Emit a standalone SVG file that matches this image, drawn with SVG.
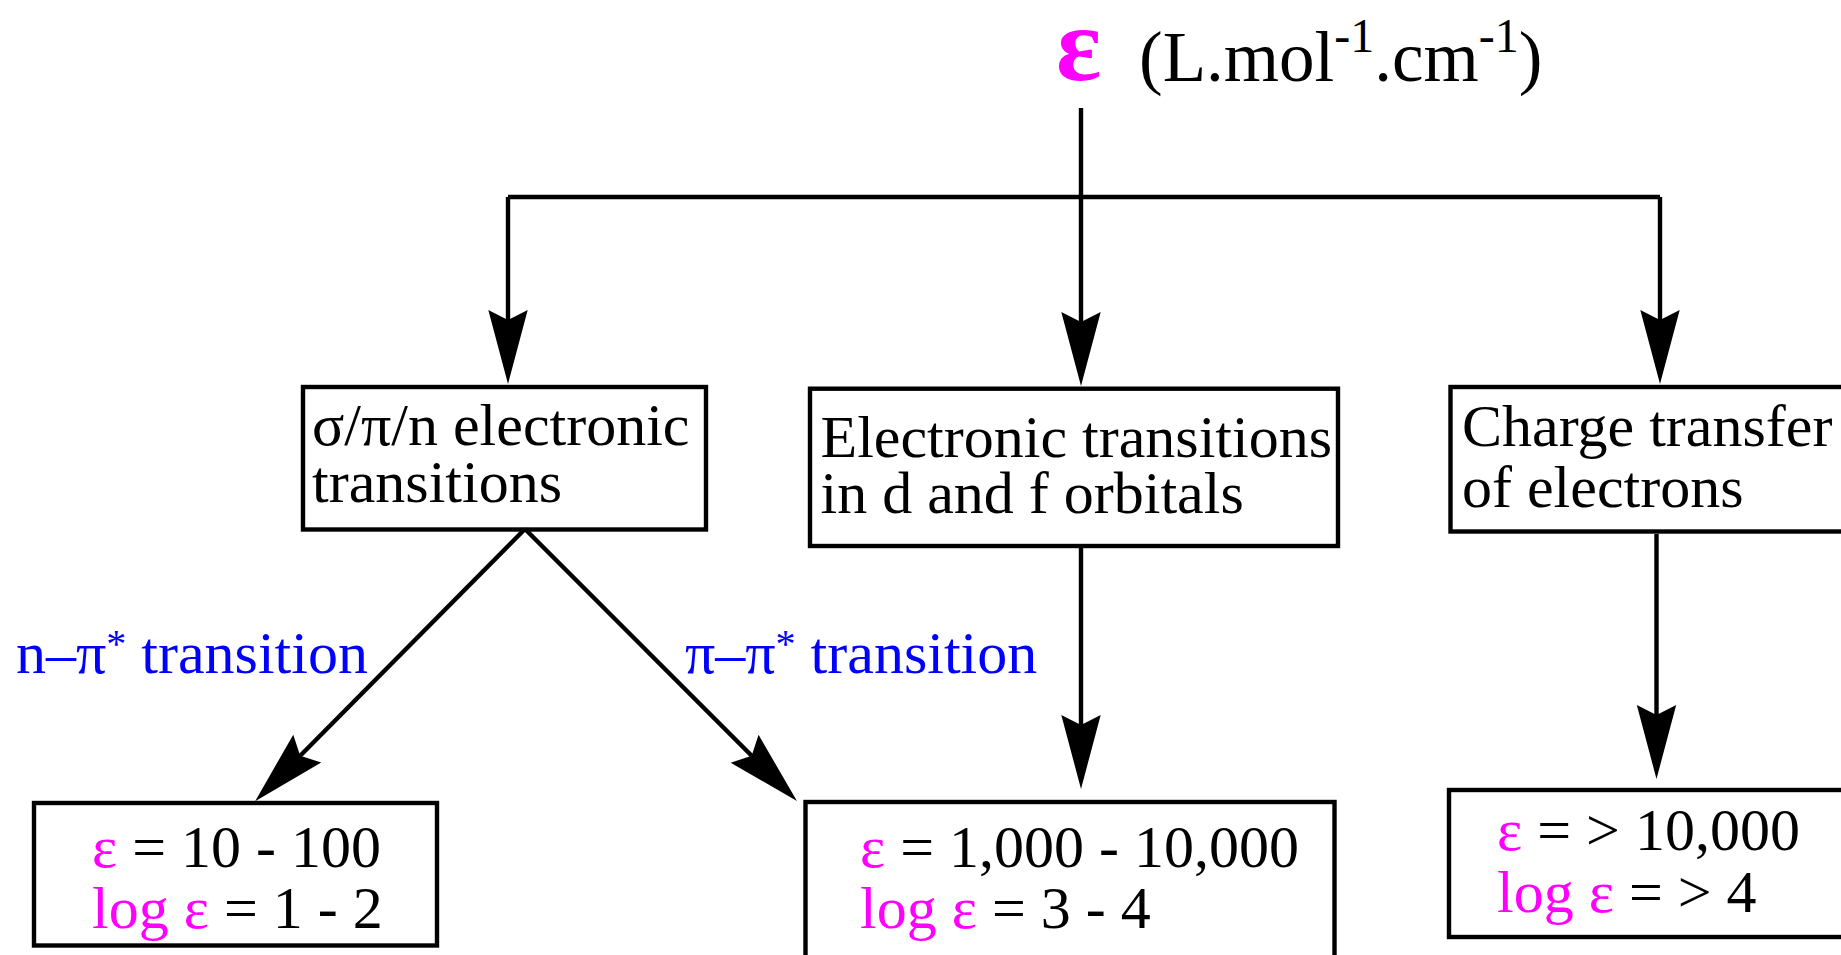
<svg xmlns="http://www.w3.org/2000/svg" width="1841" height="955" viewBox="0 0 1841 955">
<defs>
<style>
.t{font-family:"Liberation Serif","Times New Roman",serif;font-size:60px;fill:#000}
.m{fill:#FF00FF}
.b{fill:#0000FF}
.box{fill:#fff;stroke:#000;stroke-width:4.4}
.ln{fill:none;stroke:#000;stroke-width:4.4}
</style>
<marker id="ah" markerUnits="userSpaceOnUse" markerWidth="80" markerHeight="44" viewBox="-12 -22 80 44" refX="0" refY="0" orient="auto" overflow="visible">
<path d="M64,0 L-10,-19.7 L0,0 L-10,19.7 Z" fill="#000"/>
</marker>
</defs>
<rect width="1841" height="955" fill="#fff"/>

<g id="title">
<text class="t m" x="1056" y="80" style="font-size:106px;font-weight:bold">ε</text>
<text class="t" x="1139" y="81" style="font-size:71px">(L.mol<tspan dy="-29" font-size="48">-1</tspan><tspan dy="29">.cm</tspan><tspan dy="-29" font-size="48">-1</tspan><tspan dy="29">)</tspan></text>
</g>

<g id="node-sigma">
<rect class="box" x="303" y="387" width="403" height="142.5"/>
<text class="t" x="312" y="445">σ/π/n electronic</text>
<text class="t" x="312" y="502">transitions</text>
</g>

<g id="node-df">
<rect class="box" x="810" y="388.7" width="528" height="157.3"/>
<text class="t" x="820.5" y="456.7">Electronic transitions</text>
<text class="t" x="820.5" y="513">in d and f orbitals</text>
</g>

<g id="node-ct">
<rect class="box" x="1450.5" y="387" width="500" height="144.5"/>
<text class="t" x="1462" y="446">Charge transfer</text>
<text class="t" x="1462" y="507">of electrons</text>
</g>

<g id="node-low">
<rect class="box" x="34" y="803" width="403" height="142.5"/>
<text class="t" x="92" y="867"><tspan class="m">ε</tspan> = 10 - 100</text>
<text class="t" x="92" y="928"><tspan class="m">log ε</tspan> = 1 - 2</text>
</g>

<g id="node-mid">
<rect class="box" x="805.5" y="802" width="529" height="220"/>
<text class="t" x="860" y="867"><tspan class="m">ε</tspan> = 1,000 - 10,000</text>
<text class="t" x="860" y="928"><tspan class="m">log ε</tspan> = 3 - 4</text>
</g>

<g id="node-high">
<rect class="box" x="1449" y="790" width="500" height="147"/>
<text class="t" x="1497" y="850"><tspan class="m">ε</tspan> = &gt; 10,000</text>
<text class="t" x="1497" y="911.5"><tspan class="m">log ε</tspan> = &gt; 4</text>
</g>

<g id="connectors">
<path class="ln" d="M1081,108 V322" marker-end="url(#ah)"/>
<path class="ln" d="M508,197 H1660"/>
<path class="ln" d="M508,197 V320" marker-end="url(#ah)"/>
<path class="ln" d="M1660,197 V320" marker-end="url(#ah)"/>
<path class="ln" d="M525,529 L300.2,755.7" marker-end="url(#ah)"/>
<path class="ln" d="M525,529 L751.7,755.8" marker-end="url(#ah)"/>
<path class="ln" d="M1081,548 V725" marker-end="url(#ah)"/>
<path class="ln" d="M1656.5,534 V715" marker-end="url(#ah)"/>
</g>

<g id="labels">
<text class="t b" x="16" y="673">n–π<tspan dy="-16" font-size="40">*</tspan><tspan dy="16"> transition</tspan></text>
<text class="t b" x="685" y="673">π–π<tspan dy="-16" font-size="40">*</tspan><tspan dy="16"> transition</tspan></text>
</g>
</svg>
